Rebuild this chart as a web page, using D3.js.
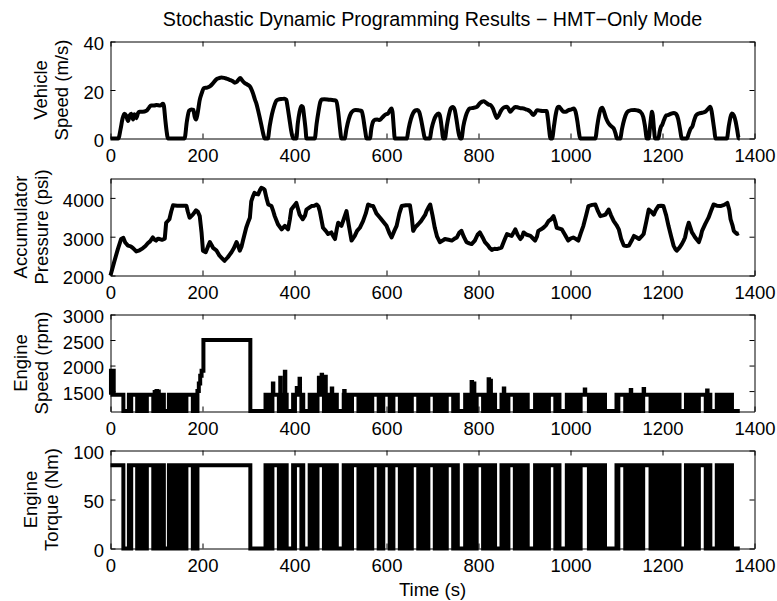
<!DOCTYPE html>
<html><head><meta charset="utf-8">
<script src="https://cdn.jsdelivr.net/npm/d3@7"></script>
<style>
html,body{margin:0;padding:0;background:#fff;}
svg{display:block;font-family:"Liberation Sans",Arial,Helvetica,sans-serif;}
</style></head><body>
<svg id="fig" width="777" height="601"></svg>
<script>
// ---- data ------------------------------------------------------------
const timeTicks = [0, 200, 400, 600, 800, 1000, 1200, 1400];
const speedTicks = [0, 20, 40];
const pressureTicks = [2000, 3000, 4000];
const rpmTicks = [1500, 2000, 2500, 3000];
const torqueTicks = [0, 50, 100];

// vehicle speed [time s, m/s]
const vehicleSpeed = [
 [0,0],[17,0],[22,4],[26,8],[30,10.2],[34,9.5],[38,7.2],[42,9.6],[45,10.2],[49,7.8],[52,10],[56,8.4],[60,10.5],[63,11],[70,11],[78,11.4],[84,12.8],[88,13.6],[95,13.6],[100,13.8],[108,13.6],[114,14.3],[116,13.5],[119,8],[122,3],[125,0],
 [161,0],[166,7],[171,11.5],[176,12],[180,11.8],[183,9],[186,7.8],[189,10],[194,15.9],[198,18.5],[203,20.8],[210,21],[216,21.5],[223,22.8],[230,24.4],[236,24.9],[241,25.2],[247,25],[252,24.7],[259,24.2],[266,23.6],[270,23],[274,23.3],[278,24.2],[282,25],[286,24],[292,22.8],[297,22.3],[303,21.5],[307,20],[310,18.5],[314,16],[317,14.5],[321,11.5],[324,9],[328,5.5],[332,2],[335,0],
 [342,0],[346,5],[351,10],[356,13.5],[361,15.7],[367,16.2],[372,16.3],[378,16.4],[382,16],[385,13],[389,8],[393,3],[397,0],
 [404,0],[407,6],[411,11],[415,13.4],[418,13],[421,9],[424,4],[426,0],
 [444,0],[448,6],[452,11],[456,15],[459,16.1],[465,16.2],[475,16],[485,15.8],[491,15.5],[495,11],[499,4],[502,0],
 [509,0],[513,4],[518,8],[523,10.5],[528,11.5],[533,11.8],[540,11.6],[546,11.3],[549,9],[553,4],[557,0],
 [564,0],[567,4],[571,7],[575,7.7],[580,7.8],[585,7.6],[590,8.5],[594,9.3],[599,10],[603,10.2],[607,11.5],[611,12.4],[613,11],[616,4],[618,0],
 [644,0],[648,4],[653,8],[658,10.5],[663,11.6],[667,11.8],[671,11],[675,8],[679,4],[684,0],
 [694,0],[698,4],[703,7.5],[708,9.5],[713,10.3],[716,9.5],[719,6],[721,3],[723,0],
 [727,0],[731,5],[736,10],[740,12.5],[744,13],[748,12],[752,8],[756,3],[760,0],
 [763,0],[767,5],[772,9],[777,11.5],[781,12.4],[788,12.6],[796,13],[803,14.5],[808,15.2],[811,15.4],[816,14.8],[822,14],[826,13.8],[831,12.5],[836,10],[840,8.5],[844,9.5],[849,11.5],[855,12.8],[862,13.1],[866,12],[869,11],[874,12],[880,13],[886,12.8],[892,12.5],[898,12.4],[903,12],[908,11.7],[913,11],[919,9.7],[923,10.5],[927,11.7],[933,11.5],[940,11.3],[948,11.3],[951,8],[954,3],[956,0],
 [960,0],[964,5],[968,10],[972,12.8],[975,13.1],[980,12],[985,11],[990,11],[995,11.6],[1002,12],[1007,12.4],[1011,11],[1015,7],[1018,3],[1021,0],
 [1054,0],[1058,5],[1062,9.5],[1066,12.3],[1069,12.7],[1073,11],[1077,8.5],[1082,6.5],[1086,5.5],[1090,4.8],[1094,4.1],[1098,2],[1101,0],
 [1108,0],[1112,4],[1117,8],[1122,10.5],[1127,11.4],[1132,11.7],[1140,11.8],[1145,11.6],[1152,11],[1158,9],[1162,5],[1166,0],
 [1170,0],[1173,5],[1176,10],[1177,11],[1179,9.5],[1181,5],[1184,0],
 [1191,0],[1194,3],[1197,5],[1199,5.5],[1203,7.5],[1208,9.5],[1213,9.7],[1219,10.3],[1225,10.5],[1230,10],[1234,8],[1238,4],[1242,0],
 [1253,0],[1257,2],[1261,4],[1265,5],[1268,7],[1273,9.5],[1279,10.3],[1286,10.6],[1293,11],[1298,12],[1302,12.8],[1304,13.1],[1307,11],[1310,7],[1313,3],[1315,0],
 [1340,0],[1344,5],[1348,9],[1351,10.3],[1355,9.5],[1359,7],[1362,4],[1366,0],[1368,0]
];

// accumulator pressure [time s, psi]
const accumulatorPressure = [
 [0,2000],[8,2350],[16,2680],[23,2940],[28,2970],[32,2850],[38,2770],[44,2750],[49,2705],[56,2620],[63,2650],[70,2700],[76,2760],[81,2830],[86,2880],[92,2980],[96,2920],[99,2900],[103,2950],[107,2940],[112,2920],[118,2950],[121,3360],[128,3450],[132,3650],[136,3810],[145,3800],[155,3800],[165,3800],[168,3650],[172,3490],[179,3570],[186,3680],[190,3640],[194,3530],[198,3100],[201,2640],[207,2600],[212,2750],[216,2860],[220,2780],[223,2710],[230,2650],[237,2510],[242,2450],[248,2380],[255,2470],[263,2600],[268,2700],[274,2860],[278,2750],[281,2640],[285,2750],[288,2900],[295,3230],[300,3400],[303,3490],[306,3910],[310,4050],[313,4130],[317,4100],[321,4090],[325,4200],[328,4260],[332,4240],[335,4210],[339,4000],[343,3830],[350,3790],[354,3650],[357,3530],[364,3320],[372,3190],[379,3280],[386,3190],[390,3450],[393,3700],[398,3780],[404,3870],[408,3700],[411,3570],[418,3450],[423,3550],[426,3700],[432,3750],[437,3790],[443,3800],[448,3830],[452,3780],[455,3660],[462,3230],[468,3150],[473,3070],[480,3110],[485,3000],[488,2940],[492,3200],[495,3360],[502,3280],[507,3450],[513,3660],[518,3300],[524,2900],[531,3020],[536,3150],[542,3230],[549,3400],[555,3600],[560,3830],[566,3800],[571,3790],[578,3600],[586,3490],
 [600,3280],[606,3100],[611,2980],[617,3150],[622,3280],[628,3600],[633,3790],[642,3810],[651,3810],[655,3500],[658,3150],[663,3250],[669,3320],[675,3400],[680,3490],[684,3560],[687,3660],[691,3750],[695,3830],[700,3550],[705,3230],[710,3000],[716,2860],[722,2900],[727,2940],[735,2920],[742,2900],[748,2950],[753,2980],[758,3100],[763,3150],[768,3000],[774,2860],[780,2830],[785,2810],[792,2900],[798,3050],[803,3110],[809,2980],[814,2860],[821,2770],[825,2700],[829,2660],[835,2690],[840,2680],[845,2700],[850,2720],[856,2900],[862,3070],[867,3040],[872,3020],[876,3100],[880,3190],[885,3050],[891,2940],[895,3000],[898,3110],[905,3050],[913,3020],[918,2960],[923,2900],[927,3000],[930,3150],[936,3190],[941,3230],[947,3300],[952,3400],[958,3450],[963,3530],[967,3380],[970,3230],[976,3210],[981,3190],[988,3050],[995,2900],[1000,2950],[1006,2980],[1012,2940],[1017,2900],[1022,3080],[1028,3280],[1034,3550],[1039,3790],[1047,3820],[1054,3830],[1060,3650],[1065,3530],[1071,3550],[1076,3570],[1083,3700],[1088,3550],[1094,3400],[1100,3300],[1105,3190],[1110,2950],[1116,2770],[1122,2760],[1127,2770],[1133,2900],[1138,3020],[1144,2980],[1149,2940],[1154,3000],[1159,3070],[1165,3400],[1170,3700],[1176,3640],[1181,3570],[1186,3700],[1191,3790],[1197,3800],[1202,3790],[1208,3550],[1213,3280],[1219,3000],[1224,2770],[1228,2680],[1231,2640],[1237,2720],[1242,2810],[1246,2900],[1249,2980],[1253,3200],[1257,3360],[1261,3220],[1264,3110],[1268,3040],[1271,2980],[1275,2920],[1279,2860],[1283,3000],[1286,3150],[1293,3330],[1300,3490],[1305,3650],[1311,3830],[1318,3800],[1326,3790],[1334,3820],[1341,3870],[1345,3700],[1348,3450],[1352,3300],[1355,3150],[1359,3100],[1362,3070],[1366,3090]
];

// engine running intervals [start s, end s)
const engineOnIntervals = [
 [0,28],
 [40,43],[45,58],[60,63],[65,68],[70,72],[74,77],[79,93],[95,98],[100,102],[104,106],[108,111],[113,116],
 [127,130],[132,135],[137,140],[142,145],[147,149],[151,154],[156,159],[161,163],[165,179],[181,184],[186,188],[189,304],
 [337,340],[342,345],[347,350],[352,366],[368,371],[373,376],[378,383],
 [397,399],[401,415],[417,419],
 [433,435],[437,440],[442,444],[446,448],[450,464],[466,469],[471,473],[475,478],[480,483],[485,487],[489,492],
 [507,510],[512,514],[516,519],[521,523],[525,539],[541,544],[546,548],[550,553],[555,558],[560,562],[564,567],[569,583],[585,587],[589,591],
 [593,607],[609,612],[615,629],[631,634],[636,638],[640,643],[645,647],[649,652],[655,669],[671,674],[676,678],[680,683],[685,688],[691,705],[707,710],[712,714],[716,719],[721,723],[725,728],[731,745],[747,750],[752,755],
 [771,774],[776,778],[780,783],[785,787],[789,792],[796,810],[812,815],[817,819],[821,824],[826,828],[830,832],[834,836],
 [850,853],[855,857],[859,862],[865,879],[881,884],[886,888],[890,893],[895,897],[899,902],[904,907],
 [923,926],[928,930],[932,935],[937,939],[941,944],[946,949],[953,967],[969,972],[974,976],
 [992,995],[997,999],[1001,1004],[1006,1008],[1010,1013],[1015,1018],[1022,1040],[1042,1045],[1047,1049],[1051,1054],[1056,1058],[1060,1063],[1065,1067],[1069,1071],[1073,1075],
 [1100,1102],[1104,1119],[1121,1124],[1126,1128],[1130,1133],[1135,1137],[1139,1142],[1144,1146],[1148,1151],[1153,1155],[1158,1174],[1176,1179],[1181,1183],[1185,1188],[1190,1192],[1194,1197],[1199,1201],[1203,1206],[1208,1210],[1212,1215],[1217,1219],[1221,1224],[1226,1228],[1230,1233],[1235,1237],
 [1251,1254],[1256,1258],[1260,1263],[1265,1267],[1269,1272],[1274,1276],[1279,1294],[1296,1299],[1301,1304],
 [1318,1321],[1323,1325],[1327,1330],[1332,1334],[1336,1339],[1341,1343],[1345,1348],[1349,1351]
];

// engine speed while running, where it differs from idle [start s, end s, rpm]
const engineSpeedOverrides = [
 [1,7,1900],[96,97,1480],[100,101,1500],[104,105,1490],[189,192,1500],[192,195,1650],[195,198,1800],[198,202,1900],[202,304,2500],
 [353,354,1650],[369,370,1760],[379,380,1880],[405,406,1560],[411,412,1740],[453,454,1760],[459,460,1820],[467,468,1780],[481,482,1550],[508,509,1500],
 [785,786,1680],[790,791,1650],[822,823,1730],[826,827,1700],[855,856,1550],[1031,1032,1530],[1131,1132,1520],[1159,1160,1540],[1297,1298,1510]
];

const RPM_IDLE = 1430, RPM_OFF = 1110, TORQUE_ON = 85, CYCLE_END = 1368;

// ---- per-second engine traces built from the intervals ---------------
const engineState = d3.range(CYCLE_END + 1).map(() => false);
engineOnIntervals.forEach(([a, b]) => { for (let t = a; t < b; t++) engineState[t] = true; });
const engineSpeed = engineState.map((on, t) => [t, on ? RPM_IDLE : RPM_OFF]);
engineSpeedOverrides.forEach(([a, b, r]) => { for (let t = a; t < b; t++) if (engineState[t]) engineSpeed[t][1] = r; });
const engineTorque = engineState.map((on, t) => [t, on ? TORQUE_ON : 0]);

// ---- layout ----------------------------------------------------------
const FONT = 18.5;
const svg = d3.select('#fig');
const x = d3.scaleLinear().domain([0, 1400]).range([110.5, 754.5]);
const fmt = d3.format('d');

const panels = [
  { top: 41.5, bottom: 138.5, domain: [0, 40], ticks: speedTicks, lines: ['Vehicle', 'Speed (m/s)'], lab: 68,
    data: vehicleSpeed, curve: d3.curveMonotoneX, join: 'round' },
  { top: 178.5, bottom: 275.5, domain: [2000, 4500], ticks: pressureTicks, lines: ['Accumulator', 'Pressure (psi)'], lab: 47.5,
    data: accumulatorPressure, curve: d3.curveLinear, join: 'round' },
  { top: 314.5, bottom: 411.5, domain: [1100, 3000], ticks: rpmTicks, lines: ['Engine', 'Speed (rpm)'], lab: 47.5,
    data: engineSpeed, curve: d3.curveStepAfter, join: 'miter' },
  { top: 450.5, bottom: 548.5, domain: [0, 100], ticks: torqueTicks, lines: ['Engine', 'Torque (Nm)'], lab: 58,
    data: engineTorque, curve: d3.curveStepAfter, join: 'miter' }
];

function styleAxis(g) {
  g.attr('font-family', null).attr('font-size', FONT);
  g.selectAll('.domain').attr('stroke', '#000').attr('stroke-width', 1);
  g.selectAll('.tick line').attr('stroke', '#000').attr('stroke-width', 1);
  g.selectAll('.tick text').attr('fill', '#000');
}

panels.forEach(p => {
  const y = d3.scaleLinear().domain(p.domain).range([p.bottom, p.top]);
  const g = svg.append('g');

  // box with inward ticks on all four sides
  g.append('g').attr('transform', `translate(0,${p.bottom})`)
    .call(d3.axisBottom(x).tickValues(timeTicks).tickFormat(fmt).tickSizeInner(-5).tickSizeOuter(0).tickPadding(10.3))
    .call(styleAxis);
  g.append('g').attr('transform', `translate(0,${p.top})`)
    .call(d3.axisTop(x).tickValues(timeTicks).tickSizeInner(-5).tickSizeOuter(0).tickFormat(''))
    .call(styleAxis);
  const yl = g.append('g').attr('transform', `translate(${x(0)},0)`)
    .call(d3.axisLeft(y).tickValues(p.ticks).tickFormat(fmt).tickSizeInner(-5).tickSizeOuter(0).tickPadding(6.5))
    .call(styleAxis);
  yl.selectAll('.tick text').attr('dy', '0.45em');
  g.append('g').attr('transform', `translate(${x(1400)},0)`)
    .call(d3.axisRight(y).tickValues(p.ticks).tickSizeInner(-5).tickSizeOuter(0).tickFormat(''))
    .call(styleAxis);

  // trace
  g.append('path').datum(p.data)
    .attr('d', d3.line().x(d => x(d[0])).y(d => y(d[1])).curve(p.curve))
    .attr('fill', 'none').attr('stroke', '#000').attr('stroke-width', 4)
    .attr('stroke-linejoin', p.join).attr('stroke-linecap', 'butt');

  // two-line rotated y label
  const cy = (p.top + p.bottom) / 2;
  const lab = g.append('text').attr('transform', `translate(0,${cy}) rotate(-90)`)
    .attr('text-anchor', 'middle').attr('font-size', FONT).attr('fill', '#000');
  lab.append('tspan').attr('x', 0).attr('y', p.lab - 21).text(p.lines[0]);
  lab.append('tspan').attr('x', 0).attr('y', p.lab).text(p.lines[1]);
});

svg.append('text').attr('x', (x(0) + x(1400)) / 2).attr('y', 26)
  .attr('text-anchor', 'middle').attr('font-size', 19.7).attr('fill', '#000')
  .text('Stochastic Dynamic Programming Results \u2212 HMT\u2212Only Mode');

svg.append('text').attr('x', (x(0) + x(1400)) / 2).attr('y', 595.5)
  .attr('text-anchor', 'middle').attr('font-size', FONT).attr('fill', '#000')
  .text('Time (s)');
</script>
</body></html>
